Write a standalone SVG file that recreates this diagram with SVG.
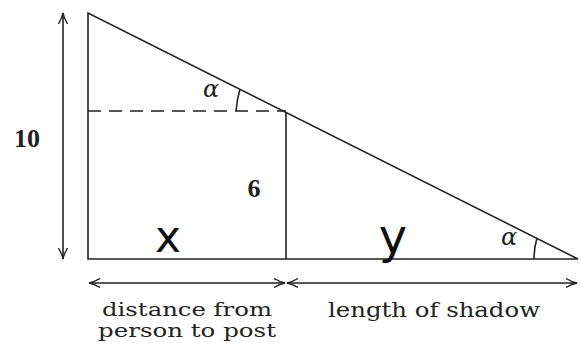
<svg xmlns="http://www.w3.org/2000/svg" width="581" height="343" viewBox="0 0 581 343">
<style>
.ln{stroke:#222;stroke-width:1.6;fill:none}
.t{font-family:"DejaVu Serif","Liberation Serif",serif;fill:#222}
.n{font-family:"Liberation Serif","DejaVu Serif",serif;fill:#222;font-weight:bold}
.h{font-family:"DejaVu Sans","Liberation Sans",sans-serif;fill:#111}
</style>
<defs>
<marker id="ah" viewBox="0 0 12 10" refX="11" refY="5" markerWidth="12" markerHeight="10" markerUnits="userSpaceOnUse" orient="auto-start-reverse">
<path d="M0,0.5 Q6,4 11,5 Q6,6 0,9.5" fill="none" stroke="#222" stroke-width="1.3"/>
</marker>
</defs>
<rect width="581" height="343" fill="#fff"/>
<g id="triangle">
<path class="ln" d="M88,13 L88,259 L578,259 Z"/>
</g>
<g id="post">
<line class="ln" x1="286" y1="112" x2="286" y2="259"/>
<line class="ln" x1="88" y1="111" x2="286" y2="111" stroke-dasharray="13,8"/>
</g>
<g id="angles">
<path class="ln" d="M236,111 Q237,99 240,89" stroke-width="1.3"/>
<path class="ln" d="M534,259 Q534,248 537,238" stroke-width="1.3"/>
</g>
<g id="connectors">
<line class="ln" x1="63" y1="13" x2="63" y2="259" marker-start="url(#ah)" marker-end="url(#ah)"/>
<line class="ln" x1="89" y1="283" x2="285" y2="283" marker-start="url(#ah)" marker-end="url(#ah)"/>
<line class="ln" x1="287" y1="283" x2="577" y2="283" marker-start="url(#ah)" marker-end="url(#ah)"/>
</g>
<g id="labels">
<text class="n" x="27" y="147" font-size="26" text-anchor="middle">10</text>
<text class="n" x="254" y="197" font-size="26" text-anchor="middle">6</text>
<text class="t" x="211" y="97" font-size="24" font-style="italic" text-anchor="middle">α</text>
<text class="t" x="509" y="245" font-size="24" font-style="italic" text-anchor="middle">α</text>
<text class="h" x="168" y="252" font-size="44" text-anchor="middle">x</text>
<text class="h" x="393" y="253" font-size="48" text-anchor="middle">y</text>
<text class="t" x="187" y="316" font-size="19" text-anchor="middle" textLength="170" lengthAdjust="spacingAndGlyphs">distance from</text>
<text class="t" x="187" y="337" font-size="19" text-anchor="middle" textLength="178" lengthAdjust="spacingAndGlyphs">person to post</text>
<text class="t" x="434" y="317" font-size="20" text-anchor="middle" textLength="212" lengthAdjust="spacingAndGlyphs">length of shadow</text>
</g>
</svg>
